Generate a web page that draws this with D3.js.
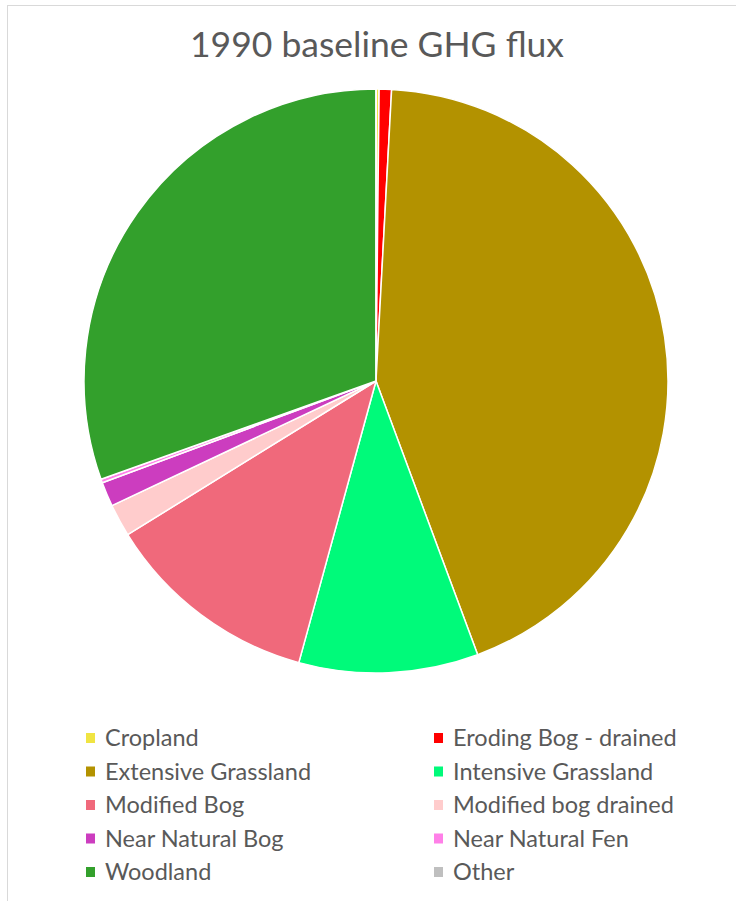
<!DOCTYPE html>
<html>
<head>
<meta charset="utf-8">
<script src="https://cdn.jsdelivr.net/npm/d3@7/dist/d3.min.js"></script>
<style>
  html, body { margin: 0; padding: 0; background: #fff; }
  svg { display: block; }
</style>
</head>
<body>
<svg id="chart" width="736" height="901"></svg>
<script>
// Share of 1990 baseline GHG flux by land-use category (%)
const categories = [
  "Cropland", "Eroding Bog - drained", "Extensive Grassland", "Intensive Grassland",
  "Modified Bog", "Modified bog drained", "Near Natural Bog", "Near Natural Fen",
  "Woodland", "Other"
];
const fluxShare = [0.17, 0.68, 43.4, 9.9, 11.9, 1.8, 1.35, 0.2, 30.4, 0];
const sliceColors = [
  "#f0e442", "#ff0000", "#b39200", "#00fa7a",
  "#f0697b", "#ffcccc", "#cc3dbf", "#ff80e8",
  "#33a02c", "#bfbfbf"
];
const chartTitle = "1990 baseline GHG flux";

const W = 736, H = 901;
const svg = d3.select("#chart");
const fontFamily = "Lato, 'Open Sans', sans-serif";
const textColor = "#595959";

// chart area frame
svg.append("rect")
  .attr("x", 7.5).attr("y", 5.5)
  .attr("width", 900).attr("height", 1000)
  .attr("fill", "#fff")
  .attr("stroke", "#d9d9d9").attr("stroke-width", 1);

// title
svg.append("text")
  .attr("x", 377).attr("y", 57)
  .attr("text-anchor", "middle")
  .attr("font-family", fontFamily)
  .attr("font-size", 35.5)
  .attr("fill", textColor)
  .text(chartTitle);

// pie
const cx = 376, cy = 381, radius = 292;
const data = categories.map((c, i) => ({ name: c, value: fluxShare[i], color: sliceColors[i] }));
const pie = d3.pie().value(d => d.value).sort(null);
const arc = d3.arc().innerRadius(0).outerRadius(radius);

const g = svg.append("g").attr("transform", `translate(${cx},${cy})`);
g.selectAll("path")
  .data(pie(data))
  .join("path")
  .attr("d", arc)
  .attr("fill", d => d.data.color)
  .attr("stroke", "#fff")
  .attr("stroke-width", 1.5)
  .attr("stroke-linejoin", "round");

// legend: two columns, row-major order
const colX = [86, 434];
const rowY0 = 738, rowStep = 33.5;
const legend = svg.append("g");
const items = legend.selectAll("g")
  .data(data)
  .join("g")
  .attr("transform", (d, i) => `translate(${colX[i % 2]},${rowY0 + Math.floor(i / 2) * rowStep})`);
items.append("rect")
  .attr("x", 0).attr("y", -5)
  .attr("width", 9).attr("height", 10)
  .attr("fill", d => d.color);
items.append("text")
  .attr("x", 19).attr("y", 0)
  .attr("dy", "0.36em")
  .attr("font-family", fontFamily)
  .attr("font-size", 23.5)
  .attr("fill", textColor)
  .text(d => d.name);
</script>
</body>
</html>
